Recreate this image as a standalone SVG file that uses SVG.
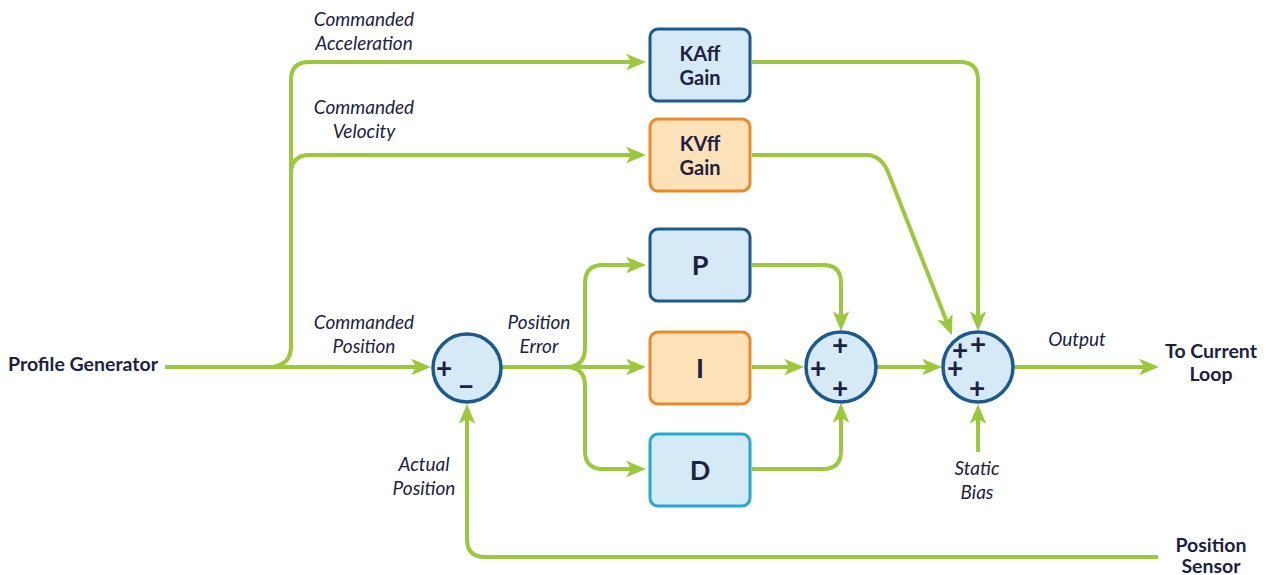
<svg xmlns="http://www.w3.org/2000/svg" width="1275" height="575" viewBox="0 0 1275 575">
  <defs>
    <marker id="arrow" markerUnits="userSpaceOnUse" markerWidth="22" markerHeight="18" viewBox="0 -8 20 16" refX="8" refY="0" orient="auto">
      <path d="M0,-7.5 L18,0 L0,7.5 L4.5,0 z" fill="#9cc93b"/>
    </marker>
    <style>
      .wire { fill: none; stroke: #9cc93b; stroke-width: 4; }
      .arr { marker-end: url(#arrow); }
      .blue { fill: #d5e9f7; stroke: #1b5a8e; stroke-width: 3; }
      .orange { fill: #fde1b9; stroke: #e98a2b; stroke-width: 3; }
      .cyan { fill: #d5eaf7; stroke: #27a9cf; stroke-width: 3; }
      .sum { fill: #d5e9f7; stroke: #1b5a8e; stroke-width: 3.5; }
      text { fill: #1d2143; font-family: Lato, "Liberation Sans", sans-serif; }
      .lbl { font-size: 19px; font-style: italic; text-anchor: middle; }
      .term { font-size: 19.5px; font-weight: bold; }
      .box { font-size: 20px; font-weight: bold; text-anchor: middle; }
      .big { font-size: 27px; font-weight: bold; text-anchor: middle; }
      .sign { font-size: 28px; font-weight: bold; text-anchor: middle; }
    </style>
  </defs>

  <!-- connectors -->
  <g id="connectors">
    <path class="wire arr" d="M165,367 H420"/>
    <path class="wire arr" d="M268,367 Q291,367 291,346 V80 Q291,62 309,62 H635"/>
    <path class="wire arr" d="M291,174 Q291,155 310,155 H635"/>
    <path class="wire arr" d="M752,62 H960 Q978,62 978,80 V320"/>
    <path class="wire arr" d="M752,155 H866 Q881,155 888,172 L948,325"/>
    <path class="wire arr" d="M502,367 H635"/>
    <path class="wire arr" d="M566,367 Q585,367 585,348 V283 Q585,265 603,265 H635"/>
    <path class="wire arr" d="M566,367 Q585,367 585,386 V451 Q585,469 603,469 H635"/>
    <path class="wire arr" d="M752,265 H823 Q841,265 841,283 V320"/>
    <path class="wire arr" d="M752,367 H793"/>
    <path class="wire arr" d="M752,469 H823 Q841,469 841,451 V414"/>
    <path class="wire arr" d="M877,367 H931"/>
    <path class="wire arr" d="M1013,367 H1148"/>
    <path class="wire arr" d="M978,452 V415"/>
    <path class="wire arr" d="M1158,557 H485 Q467,557 467,539 V415"/>
  </g>

  <!-- gain blocks -->
  <g id="kaff">
    <rect class="blue" x="650" y="29" width="100" height="72" rx="8"/>
    <text class="box" x="700" y="61">KAff</text>
    <text class="box" x="700" y="85">Gain</text>
  </g>
  <g id="kvff">
    <rect class="orange" x="650" y="119" width="100" height="72" rx="8"/>
    <text class="box" x="700" y="151">KVff</text>
    <text class="box" x="700" y="175">Gain</text>
  </g>
  <g id="p">
    <rect class="blue" x="650" y="229" width="100" height="72" rx="8"/>
    <text class="big" x="700" y="275">P</text>
  </g>
  <g id="i">
    <rect class="orange" x="650" y="332" width="100" height="72" rx="8"/>
    <text class="big" x="700" y="378">I</text>
  </g>
  <g id="d">
    <rect class="cyan" x="650" y="434" width="100" height="72" rx="8"/>
    <text class="big" x="700" y="480">D</text>
  </g>

  <!-- summing junctions -->
  <g id="sum-error">
    <circle class="sum" cx="467" cy="368" r="34"/>
    <text class="sign" x="444" y="378">+</text>
    <text class="sign" x="466" y="396">−</text>
  </g>
  <g id="sum-pid">
    <circle class="sum" cx="841" cy="367" r="35"/>
    <text class="sign" x="840" y="355">+</text>
    <text class="sign" x="818" y="378">+</text>
    <text class="sign" x="840" y="398">+</text>
  </g>
  <g id="sum-output">
    <circle class="sum" cx="978" cy="367" r="35"/>
    <text class="sign" x="960" y="360">+</text>
    <text class="sign" x="978" y="354">+</text>
    <text class="sign" x="955" y="378">+</text>
    <text class="sign" x="977" y="398">+</text>
  </g>

  <!-- terminals -->
  <g id="profile-generator">
    <text class="term" x="8" y="371">Profile Generator</text>
  </g>
  <g id="current-loop">
    <text class="term" x="1211" y="358" text-anchor="middle">To Current</text>
    <text class="term" x="1211" y="381" text-anchor="middle">Loop</text>
  </g>
  <g id="position-sensor">
    <text class="term" x="1211" y="552" text-anchor="middle">Position</text>
    <text class="term" x="1211" y="573" text-anchor="middle">Sensor</text>
  </g>

  <!-- signal labels -->
  <g id="labels">
    <text class="lbl" x="364" y="26">Commanded</text>
    <text class="lbl" x="364" y="50">Acceleration</text>
    <text class="lbl" x="364" y="114">Commanded</text>
    <text class="lbl" x="364" y="138">Velocity</text>
    <text class="lbl" x="364" y="329">Commanded</text>
    <text class="lbl" x="364" y="353">Position</text>
    <text class="lbl" x="539" y="329">Position</text>
    <text class="lbl" x="539" y="353">Error</text>
    <text class="lbl" x="424" y="471">Actual</text>
    <text class="lbl" x="424" y="495">Position</text>
    <text class="lbl" x="1077" y="346">Output</text>
    <text class="lbl" x="977" y="475">Static</text>
    <text class="lbl" x="977" y="499">Bias</text>
  </g>
</svg>
